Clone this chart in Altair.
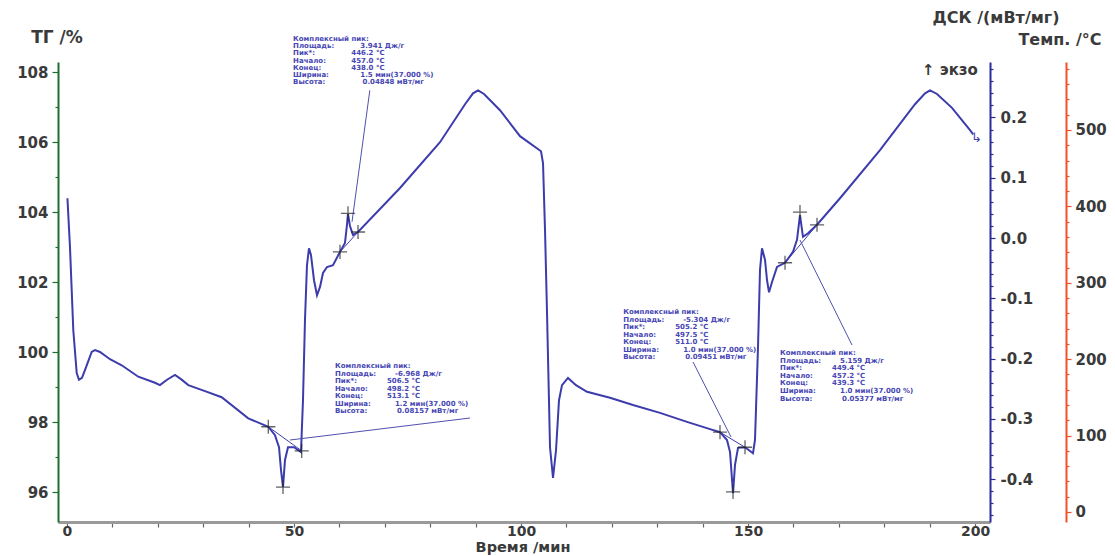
import altair as alt
import pandas as pd

# ---------------- data ----------------
# DSC curve: time (min) and DSC (mW/mg)
time_min = [0.1, 0.66, 1.39, 2.14, 2.64, 3.30, 3.96, 5.44, 6.17, 7.27, 9.47, 12.05, 15.70,
            19.38, 20.48, 22.03, 23.79, 25.11, 26.72, 30.40, 34.07, 39.93, 44.34, 45.81,
            46.70, 47.14, 47.58, 48.02, 48.68, 50.00, 51.54, 51.98, 52.42, 52.86, 53.30,
            53.74, 54.41, 55.07, 55.73, 56.39, 57.27, 58.59, 60.13, 61.23, 61.67, 61.89,
            62.33, 63.00, 64.10, 73.35, 82.16, 87.67, 89.43, 90.53, 91.85, 95.37, 99.78,
            104.41, 104.85, 105.29, 105.73, 106.39, 107.05, 107.71, 108.37, 109.03, 110.35,
            112.11, 114.54, 119.60, 124.67, 130.62, 136.56, 141.63, 143.83, 145.37, 146.04,
            146.48, 146.70, 147.14, 147.80, 149.34, 151.10, 151.54, 152.20, 152.64, 153.08,
            153.74, 154.19, 154.63, 155.29, 156.39, 158.15, 159.91, 160.79, 161.45, 162.11,
            163.22, 165.20, 170.26, 179.07, 186.78, 188.99, 190.09, 191.63, 194.93, 198.90,
            199.60]
dsc = [0.066, -0.015, -0.153, -0.224, -0.235, -0.232, -0.219, -0.189, -0.186, -0.189,
       -0.201, -0.211, -0.230, -0.240, -0.244, -0.235, -0.227, -0.234, -0.244, -0.254,
       -0.264, -0.299, -0.313, -0.327, -0.347, -0.385, -0.413, -0.368, -0.347, -0.347,
       -0.355, -0.269, -0.136, -0.045, -0.017, -0.028, -0.070, -0.095, -0.081, -0.058,
       -0.048, -0.045, -0.023, -0.008, 0.022, 0.040, 0.020, 0.005, 0.010, 0.083, 0.159,
       0.222, 0.240, 0.245, 0.239, 0.212, 0.169, 0.144, 0.124, 0.013, -0.124, -0.347,
       -0.398, -0.352, -0.269, -0.244, -0.232, -0.244, -0.255, -0.265, -0.277, -0.290,
       -0.305, -0.317, -0.322, -0.335, -0.355, -0.401, -0.423, -0.376, -0.348, -0.347,
       -0.357, -0.335, -0.181, -0.053, -0.017, -0.036, -0.070, -0.090, -0.073, -0.048,
       -0.041, -0.023, -0.003, 0.038, 0.002, 0.008, 0.022, 0.066, 0.146, 0.222, 0.240,
       0.245, 0.239, 0.216, 0.179, 0.172]

# peak markers (start, extremum, end) for the four evaluated peaks
cross_t = [44.34, 47.58, 51.70, 60.13, 61.89, 64.10, 143.83, 146.70, 149.34, 158.15, 161.45, 165.20]
cross_d = [-0.313, -0.413, -0.353, -0.023, 0.041, 0.010, -0.322, -0.421, -0.347, -0.041, 0.043, 0.022]

# peak baselines
base_t1 = [44.34, 60.13, 143.83, 158.15]
base_d1 = [-0.313, -0.023, -0.322, -0.041]
base_t2 = [51.70, 64.10, 149.34, 165.20]
base_d2 = [-0.353, 0.010, -0.347, 0.022]

# evaluation table texts
row_labels = ["Площадь:", "Пик*:", "Начало:", "Конец:", "Ширина:", "Высота:"]
peak_area = ["3.941 Дж/г", "-6.968 Дж/г", "-5.304 Дж/г", "5.159 Дж/г"]
peak_temp = ["446.2 °C", "506.5 °C", "505.2 °C", "449.4 °C"]
peak_onset = ["457.0 °C", "498.2 °C", "497.5 °C", "457.2 °C"]
peak_end = ["438.0 °C", "513.1 °C", "511.0 °C", "439.3 °C"]
peak_width = ["1.5 мин(37.000 %)", "1.2 мин(37.000 %)", "1.0 мин(37.000 %)", "1.0 мин(37.000 %)"]
peak_height = ["0.04848 мВт/мг", "0.08157 мВт/мг", "0.09451 мВт/мг", "0.05377 мВт/мг"]

# ---------------- layout / style ----------------
W, H = 932, 460
T_DOMAIN = [-1.98, 203.3]
D_DOMAIN = [-0.471, 0.292]
TG_DOMAIN = [95.143, 108.286]
TEMP_DOMAIN = [-13.1, 589.0]
PX_T = W / (T_DOMAIN[1] - T_DOMAIN[0])
PX_D = H / (D_DOMAIN[1] - D_DOMAIN[0])

FONT = "DejaVu Sans"
TXT = "#3a3a3a"
CURVE = "#3c3cac"
ANN = "#4646b4"
GREEN = "#1f6e2f"
BLUE = "#2b2b9a"
RED = "#f0502a"

# annotation boxes: anchor (time, dsc) of first row, row spacing px
box_t = [49.8, 59.03, 122.5, 157.05]
box_d = [0.330, -0.2123, -0.1227, -0.1907]
box_sp = [7.2, 7.5, 7.5, 7.6]
val_off_px = [60, 52, 52, 52, 60, 62]
box_scale = [1.12, 1.0, 1.0, 1.0]

# leader lines from boxes to peaks
lead_t1 = [66.7, 88.77, 137.89, 172.9]
lead_d1 = [0.245, -0.2985, -0.2056, -0.1774]
lead_t2 = [62.78, 49.12, 146.26, 161.45]
lead_d2 = [0.027, -0.335, -0.330, -0.0033]

# ---------------- frames ----------------
curve_df = pd.DataFrame({"t": time_min, "d": dsc, "i": range(len(dsc))})
cross_df = pd.DataFrame({"t": cross_t, "d": cross_d})
base_df = pd.DataFrame({"t": base_t1, "d": base_d1, "t2": base_t2, "d2": base_d2})
lead_df = pd.DataFrame({"t": lead_t1, "d": lead_d1, "t2": lead_t2, "d2": lead_d2})

rows = []
values = list(zip(peak_area, peak_temp, peak_onset, peak_end, peak_width, peak_height))
for b in range(4):
    rows.append({"t": box_t[b], "d": box_d[b], "s": "Комплексный пик:"})
    for k in range(6):
        dd = box_d[b] - (k + 1) * box_sp[b] / PX_D
        rows.append({"t": box_t[b], "d": dd, "s": row_labels[k]})
        rows.append({"t": box_t[b] + val_off_px[k] * box_scale[b] / PX_T, "d": dd, "s": values[b][k]})
text_df = pd.DataFrame(rows)

# ---------------- scales / axes ----------------
common = dict(title=None, grid=False, labelOverlap=False, labelFlush=False,
              labelFont=FONT, labelFontSize=15, labelFontWeight="bold", labelColor=TXT)

x_scale = alt.Scale(domain=T_DOMAIN, nice=False, zero=False)
x_common = dict(common, labelFontSize=14)
x_axis = alt.Axis(
    values=list(range(0, 201, 10)),
    labelExpr="datum.value % 50 === 0 ? datum.label : ''",
    domainColor="#9a9a9a", domainWidth=3, tickColor="#666666", tickSize=5,
    tickWidth=1.2, labelPadding=-3, **x_common,
)

d_scale = alt.Scale(domain=D_DOMAIN, nice=False, zero=False)
d_axis = alt.Axis(
    orient="right",
    values=[round(-0.46 + 0.02 * i, 2) for i in range(38)],
    labelExpr="abs(round(datum.value*100)) % 10 === 0 ? (datum.value < -0.001 ? '-' : '') + format(abs(datum.value), '.1f') : ''",
    domainColor=BLUE, domainWidth=2, tickColor=BLUE, tickWidth=1.2,
    tickSize={"condition": {"test": "abs(round(datum.value*100)) % 10 === 0", "value": 5}, "value": 3},
    labelPadding=5, **common,
)

tg_scale = alt.Scale(domain=TG_DOMAIN, nice=False, zero=False)
tg_axis = alt.Axis(
    orient="left",
    values=list(range(96, 109)),
    labelExpr="datum.value % 2 === 0 ? datum.label : ''",
    domainColor=GREEN, domainWidth=2, tickColor=GREEN, tickWidth=1.2,
    tickSize={"condition": {"test": "datum.value % 2 === 0", "value": 6}, "value": 3},
    labelPadding=4, **common,
)

temp_scale = alt.Scale(domain=TEMP_DOMAIN, nice=False, zero=False)
temp_axis = alt.Axis(
    orient="right", offset=76,
    values=list(range(0, 581, 20)),
    labelExpr="datum.value % 100 === 0 ? datum.label : ''",
    domainColor=RED, domainWidth=2, tickColor=RED, tickWidth=1.2,
    tickSize={"condition": {"test": "datum.value % 100 === 0", "value": 5}, "value": 3},
    labelPadding=4, **common,
)

X = lambda f="t": alt.X(f"{f}:Q", scale=x_scale, axis=x_axis)
Y = lambda f="d": alt.Y(f"{f}:Q", scale=d_scale, axis=d_axis)

curve = alt.Chart(curve_df).mark_line(color=CURVE, strokeWidth=2).encode(
    x=X(), y=Y(), order="i:Q")

baselines = alt.Chart(base_df).mark_rule(color=CURVE, strokeWidth=1).encode(
    x=X(), y=Y(), x2="t2:Q", y2="d2:Q")

leaders = alt.Chart(lead_df).mark_rule(color="#5050b0", strokeWidth=1).encode(
    x=X(), y=Y(), x2="t2:Q", y2="d2:Q")

crosses = alt.Chart(cross_df).mark_point(
    shape="M-1,0L1,0M0,-1L0,1", size=200, filled=False, color="#222222", strokeWidth=1.3
).encode(x=X(), y=Y())

box_text = alt.Chart(text_df).mark_text(
    align="left", baseline="middle", font="DejaVu Sans", fontSize=7, fontWeight="bold", color=ANN
).encode(x=X(), y=Y(), text="s:N")

hook = alt.Chart(pd.DataFrame({"t": [200.3], "d": [0.166], "s": ["↳"]})).mark_text(
    align="center", baseline="middle", font="DejaVu Sans", fontSize=13, color=CURVE
).encode(x=X(), y=Y(), text="s:N")


def label(txt, x, y, align="center", size=16):
    return alt.Chart(pd.DataFrame({"s": [txt]})).mark_text(
        align=align, baseline="middle", font=FONT, fontSize=size, fontWeight="bold", color=TXT
    ).encode(x=alt.value(x), y=alt.value(y), text="s:N")


titles = [
    label("ТГ /%", -1, -24, size=17),
    label("ДСК /(мВт/мг)", 938, -44),
    label("Темп. /°C", 1002, -22),
    label("Время /мин", 465, 485.5, size=14.5),
    label("↑ экзо", 864, 8, align="left", size=15),
]

inner = alt.layer(curve, baselines, leaders, crosses, box_text, hook, *titles)

tg_layer = alt.Chart(pd.DataFrame({"t": [0, 0], "tg": [96, 108]})).mark_point(opacity=0).encode(
    x=X(), y=alt.Y("tg:Q", scale=tg_scale, axis=tg_axis))

temp_layer = alt.Chart(pd.DataFrame({"t": [0, 0], "tc": [0, 500]})).mark_point(opacity=0).encode(
    x=X(), y=alt.Y("tc:Q", scale=temp_scale, axis=temp_axis))

chart = alt.layer(tg_layer, inner, temp_layer).resolve_scale(y="independent").properties(
    width=W, height=H,
    autosize=alt.AutoSizeParams(type="none"),
    padding={"left": 50, "top": 54, "right": 117, "bottom": 34},
    background="white",
).configure_view(stroke=None)

chart.save("out.html", embed_options={"renderer": "svg", "actions": False})
